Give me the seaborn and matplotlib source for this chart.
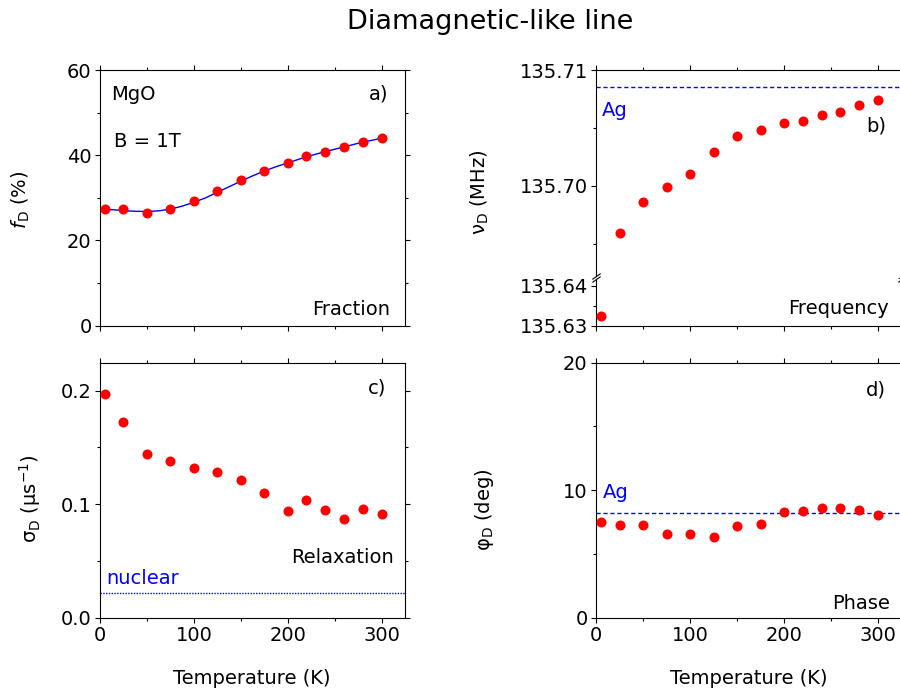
import numpy as np
import pandas as pd
import matplotlib
matplotlib.use("Agg")
import matplotlib.pyplot as plt
import seaborn as sns
from matplotlib.ticker import MultipleLocator, FormatStrFormatter

# ---------------- data ----------------
temperature = [5, 25, 50, 75, 100, 125, 150, 175, 200, 220, 240, 260, 280, 300]
fraction = [27.4, 27.3, 26.4, 27.5, 29.2, 31.7, 34.1, 36.3, 38.2, 39.8, 40.8, 41.9, 43.1, 44.1]
frequency = [135.63252, 135.69594, 135.69859, 135.69986, 135.70098, 135.70291,
             135.70432, 135.70478, 135.70542, 135.70559, 135.70608, 135.70637,
             135.70697, 135.70744]
relaxation = [0.1968, 0.1727, 0.1439, 0.1377, 0.1319, 0.1280, 0.1213,
              0.1098, 0.0943, 0.1037, 0.0949, 0.0872, 0.0960, 0.0910]
phase = [7.50, 7.29, 7.29, 6.56, 6.59, 6.35, 7.22, 7.35, 8.31, 8.34, 8.60, 8.58, 8.44, 8.03]

fit_T = [5, 15, 25, 37.5, 50, 62.5, 75, 87.5, 100, 112.5, 125, 137.5, 150, 162.5,
         175, 187.5, 200, 212.5, 225, 237.5, 250, 262.5, 275, 287.5, 300]
fit_fraction = [27.3, 27.2, 27.0, 26.85, 26.8, 26.95, 27.35, 28.05, 28.95, 30.0,
                31.3, 32.6, 33.9, 35.15, 36.3, 37.3, 38.2, 39.1, 39.95, 40.7,
                41.4, 42.1, 42.8, 43.4, 44.0]

ag_frequency = 135.7085
ag_phase = 8.24
nuclear_relaxation = 0.0215

df = pd.DataFrame({"T": temperature, "f": fraction, "nu": frequency,
                   "sigma": relaxation, "phi": phase})
fit_df = pd.DataFrame({"T": fit_T, "f": fit_fraction})

# ---------------- style ----------------
sns.set_theme(style="ticks")
plt.rcParams["font.family"] = ["DejaVu Sans"]
plt.rcParams["mathtext.fontset"] = "dejavusans"
plt.rcParams["axes.linewidth"] = 0.8
for k in ("axes.edgecolor", "text.color", "axes.labelcolor", "xtick.color", "ytick.color"):
    plt.rcParams[k] = "black"

W, H = 900, 691
fig = plt.figure(figsize=(W / 100, H / 100), dpi=100)
fig.patch.set_facecolor("white")

FS = 14


def px_axes(x0, y0, x1, y1):
    return fig.add_axes([x0 / W, 1 - y1 / H, (x1 - x0) / W, (y1 - y0) / H])


def ptxt(x, y, s, **kw):
    kw.setdefault("fontsize", FS)
    return fig.text(x / W, 1 - y / H, s, **kw)


DOT = dict(color="#ff0000", s=52, linewidth=0, zorder=3)


def style_axes(ax, xlabels=True):
    ax.set_xlim(0, 325)
    ax.xaxis.set_major_locator(MultipleLocator(100))
    ax.xaxis.set_minor_locator(MultipleLocator(50))
    ax.tick_params(which="both", direction="out", top=True, right=True,
                   width=0.8, color="black", labelsize=FS, pad=2.5)
    ax.tick_params(which="major", length=3.5)
    ax.tick_params(which="minor", length=2)
    if not xlabels:
        ax.tick_params(axis="x", which="both", labelbottom=False)
    ax.set_xlabel("")
    ax.set_ylabel("")
    ax.grid(False)


# ---------------- panel a ----------------
ax_a = px_axes(100, 70, 405, 325.7)
sns.lineplot(data=fit_df, x="T", y="f", color="blue", lw=1, ax=ax_a, zorder=2)
sns.scatterplot(data=df, x="T", y="f", ax=ax_a, **DOT)
style_axes(ax_a, xlabels=False)
ax_a.set_ylim(0, 60)
ax_a.yaxis.set_major_locator(MultipleLocator(20))
ax_a.yaxis.set_minor_locator(MultipleLocator(10))

# ---------------- panel b (broken axis) ----------------
ax_bt = px_axes(596, 70, 901.5, 275.5)
ax_bb = px_axes(596, 279, 901.5, 325.7)
for ax in (ax_bt, ax_bb):
    sns.scatterplot(data=df, x="T", y="nu", ax=ax, **DOT)
    ax.axhline(ag_frequency, color="blue", lw=1, ls=(0, (3, 2)))
    style_axes(ax, xlabels=False)
    ax.yaxis.set_major_locator(MultipleLocator(0.01))
    ax.yaxis.set_minor_locator(MultipleLocator(0.005))
    ax.yaxis.set_major_formatter(FormatStrFormatter("%.2f"))
ax_bt.set_ylim(135.692239, 135.71)
ax_bb.set_ylim(135.63, 135.641763)
ax_bt.spines["bottom"].set_visible(False)
ax_bt.tick_params(axis="x", which="both", bottom=False)
ax_bb.spines["top"].set_visible(False)
ax_bb.tick_params(axis="x", which="both", top=False)
brk = dict(marker=[(-1, -0.7), (1, 0.7)], markersize=6, linestyle="none",
           color="black", mec="black", mew=0.8, clip_on=False)
ax_bt.plot([0, 1], [0, 0], transform=ax_bt.transAxes, **brk)
ax_bb.plot([0, 1], [1, 1], transform=ax_bb.transAxes, **brk)

# ---------------- panel c ----------------
ax_c = px_axes(100, 362.7, 405, 617.7)
sns.scatterplot(data=df, x="T", y="sigma", ax=ax_c, **DOT)
ax_c.axhline(nuclear_relaxation, color="blue", lw=1, ls=(0, (1, 1)))
style_axes(ax_c)
ax_c.set_ylim(0, 0.2247)
ax_c.yaxis.set_major_locator(MultipleLocator(0.1))
ax_c.yaxis.set_minor_locator(MultipleLocator(0.05))
ax_c.yaxis.set_major_formatter(FormatStrFormatter("%.1f"))

# ---------------- panel d ----------------
ax_d = px_axes(596, 362.7, 901.5, 617.7)
sns.scatterplot(data=df, x="T", y="phi", ax=ax_d, **DOT)
ax_d.axhline(ag_phase, color="blue", lw=1, ls=(0, (3, 2)))
style_axes(ax_d)
ax_d.set_ylim(0, 20)
ax_d.yaxis.set_major_locator(MultipleLocator(10))
ax_d.yaxis.set_minor_locator(MultipleLocator(5))

# ---------------- texts ----------------
ptxt(490, 29, "Diamagnetic-like line", fontsize=19.5, ha="center", va="baseline")

ptxt(111, 100, "MgO", ha="left", va="baseline")
ptxt(114, 147, "B = 1T", ha="left", va="baseline")
ptxt(388, 100, "a)", ha="right", va="baseline")
ptxt(390, 315, "Fraction", ha="right", va="baseline")

ptxt(602, 116, "Ag", color="blue", ha="left", va="baseline")
ptxt(886, 131, "b)", ha="right", va="baseline")
ptxt(889, 314, "Frequency", ha="right", va="baseline")

ptxt(386, 393, "c)", ha="right", va="baseline")
ptxt(394, 563, "Relaxation", ha="right", va="baseline")
ptxt(106, 584, "nuclear", color="blue", ha="left", va="baseline")

ptxt(886, 396, "d)", ha="right", va="baseline")
ptxt(603, 498, "Ag", color="blue", ha="left", va="baseline")
ptxt(890, 609, "Phase", ha="right", va="baseline")

# axis labels
ptxt(21, 200, r"$f$$_{\mathregular{D}}$ (%)", rotation=90, ha="center", va="center")
ptxt(480, 192, r"ν$_{\mathregular{D}}$ (MHz)", rotation=90, ha="center", va="center")
ptxt(30, 499, r"σ$_{\mathregular{D}}$ (μs$^{\mathregular{-1}}$)", rotation=90, ha="center", va="center")
ptxt(485, 510, r"φ$_{\mathregular{D}}$ (deg)", rotation=90, ha="center", va="center")
ptxt(252, 684, "Temperature (K)", ha="center", va="baseline")
ptxt(748.5, 684, "Temperature (K)", ha="center", va="baseline")

fig.savefig("out.png", dpi=100, facecolor="white")
